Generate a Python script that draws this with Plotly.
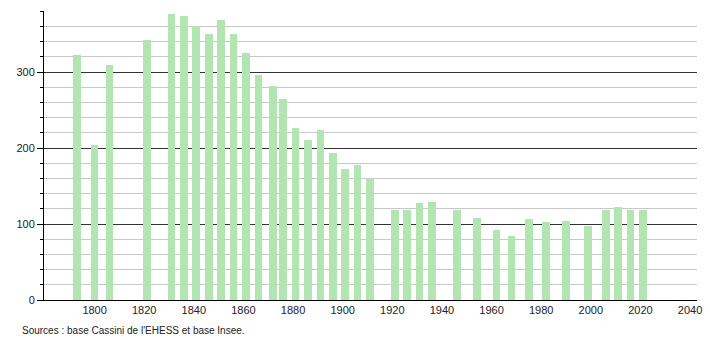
import plotly.graph_objects as go

years = [1793, 1800, 1806, 1821, 1831, 1836, 1841, 1846, 1851, 1856, 1861, 1866,
         1872, 1876, 1881, 1886, 1891, 1896, 1901, 1906, 1911, 1921, 1926, 1931,
         1936, 1946, 1954, 1962, 1968, 1975, 1982, 1990, 1999, 2006, 2011, 2016, 2021]
population = [322, 204, 309, 342, 376, 374, 360, 350, 368, 350, 325, 296,
              282, 264, 227, 211, 224, 193, 172, 178, 159, 119, 118, 128,
              129, 119, 108, 92, 84, 107, 102, 104, 97, 119, 122, 119, 119]
x_ticks = [1800, 1820, 1840, 1860, 1880, 1900, 1920, 1940, 1960, 1980, 2000, 2020, 2040]
source_text = "Sources : base Cassini de l'EHESS et base Insee."

W, H = 710, 340
L, R, T, B = 44, 8, 11, 40
pw = W - L - R
ph = H - T - B

fig = go.Figure()
fig.add_trace(go.Bar(x=years, y=population, width=3.1,
                     marker=dict(color="#b2e5b2", line=dict(width=0))))

fig.update_layout(
    width=W, height=H,
    margin=dict(l=L, r=R, t=T, b=B),
    paper_bgcolor="white", plot_bgcolor="white",
    showlegend=False,
    font=dict(family="Liberation Sans, Arial, sans-serif", size=11, color="#222"),
    bargap=0,
)
fig.update_xaxes(
    range=[1779.6, 1779.6 + pw / 2.5],
    tickvals=x_ticks, ticktext=[str(v) for v in x_ticks],
    showgrid=False, zeroline=False,
    showline=True, linecolor="black", linewidth=1,
    ticks="", ticklen=0,
)
fig.update_yaxes(
    range=[0, 380.3],
    tickmode="linear", tick0=0, dtick=100,
    showgrid=True, gridcolor="#333333", gridwidth=1,
    zeroline=False,
    showline=True, linecolor="black", linewidth=1,
    ticks="outside", ticklen=6, tickcolor="black",
    minor=dict(dtick=20, tick0=0, showgrid=True, gridcolor="#c8c8c8", gridwidth=1,
               ticks="outside", ticklen=3, tickcolor="black"),
)
fig.add_annotation(
    text=source_text, xref="paper", yref="paper",
    x=(20 - L) / pw, y=-(330 - (T + ph)) / ph,
    xanchor="left", yanchor="middle", showarrow=False,
    font=dict(size=10, color="#222"),
)

fig.write_html("out.html")
